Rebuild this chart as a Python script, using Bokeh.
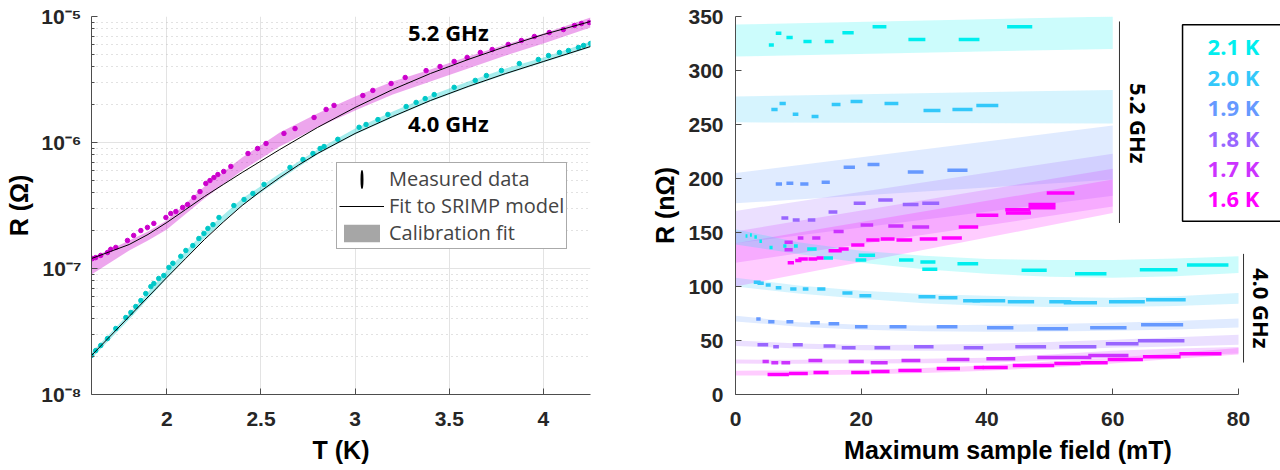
import numpy as np
from bokeh.plotting import figure
from bokeh.layouts import row
from bokeh.models import (FixedTicker, CustomJSTickFormatter, Legend, LegendItem,
                          Label, Range1d)
from bokeh.embed import file_html
from bokeh.resources import INLINE

# ---------------- LEFT PANEL DATA : R(T) ----------------
T52 = [1.605, 1.622, 1.649, 1.685, 1.702, 1.729, 1.791, 1.824, 1.862, 1.897, 1.931, 1.995,
       2.021, 2.048, 2.084, 2.110, 2.144, 2.176, 2.207, 2.229, 2.250, 2.271, 2.302, 2.340,
       2.431, 2.482, 2.527, 2.622, 2.681, 2.782, 2.846, 2.888, 3.041, 3.094, 3.191, 3.266,
       3.377, 3.451, 3.526, 3.595, 3.665, 3.728, 3.813, 3.883, 3.952, 4.031, 4.106, 4.165,
       4.202, 4.244]
R52 = [1.20e-7, 1.22e-7, 1.27e-7, 1.34e-7, 1.42e-7, 1.47e-7, 1.67e-7, 1.83e-7, 2.00e-7,
       2.12e-7, 2.28e-7, 2.54e-7, 2.73e-7, 2.83e-7, 3.05e-7, 3.22e-7, 3.66e-7, 4.08e-7,
       4.73e-7, 4.99e-7, 5.27e-7, 5.57e-7, 5.89e-7, 6.46e-7, 8.18e-7, 8.96e-7, 9.82e-7,
       1.18e-6, 1.29e-6, 1.58e-6, 1.83e-6, 1.97e-6, 2.36e-6, 2.59e-6, 2.94e-6, 3.28e-6,
       3.72e-6, 4.01e-6, 4.40e-6, 4.73e-6, 5.18e-6, 5.47e-6, 6.00e-6, 6.45e-6, 6.94e-6,
       7.46e-6, 7.88e-6, 8.49e-6, 8.79e-6, 8.96e-6]
T40 = [1.600, 1.622, 1.649, 1.685, 1.729, 1.782, 1.809, 1.835, 1.862, 1.888, 1.915, 1.931,
       1.957, 1.984, 2.011, 2.032, 2.074, 2.101, 2.138, 2.170, 2.197, 2.218, 2.245, 2.277,
       2.356, 2.410, 2.457, 2.516, 2.654, 2.723, 2.776, 2.814, 2.835, 2.908, 3.021, 3.058,
       3.121, 3.174, 3.271, 3.324, 3.372, 3.420, 3.526, 3.638, 3.697, 3.777, 3.872, 3.973,
       4.027, 4.085, 4.133, 4.186, 4.213, 4.250]
R40 = [2.04e-8, 2.23e-8, 2.45e-8, 2.78e-8, 3.34e-8, 4.08e-8, 4.48e-8, 4.99e-8, 5.57e-8,
       6.33e-8, 7.19e-8, 7.60e-8, 8.34e-8, 8.80e-8, 1.02e-7, 1.10e-7, 1.25e-7, 1.39e-7,
       1.52e-7, 1.73e-7, 1.90e-7, 2.08e-7, 2.23e-7, 2.54e-7, 3.16e-7, 3.53e-7, 3.94e-7,
       4.65e-7, 6.34e-7, 7.33e-7, 8.18e-7, 8.96e-7, 9.29e-7, 1.06e-6, 1.32e-6, 1.39e-6,
       1.52e-6, 1.67e-6, 1.93e-6, 2.08e-6, 2.23e-6, 2.40e-6, 2.74e-6, 3.11e-6, 3.40e-6,
       3.73e-6, 4.23e-6, 4.56e-6, 4.90e-6, 5.18e-6, 5.37e-6, 5.68e-6, 5.89e-6, 6.11e-6]

fitT52 = [1.6, 1.7, 1.8, 1.9, 2.0, 2.1, 2.2, 2.3, 2.4, 2.6, 2.8, 3.0, 3.2, 3.4, 3.6, 3.8,
          4.0, 4.25]
fitR52 = [1.200e-7, 1.364e-7, 1.550e-7, 1.862e-7, 2.318e-7, 2.938e-7, 3.727e-7, 4.642e-7,
          5.779e-7, 8.799e-7, 1.315e-6, 1.896e-6, 2.634e-6, 3.528e-6, 4.557e-6, 5.779e-6,
          7.197e-6, 9.127e-6]
fitT40 = [1.6, 1.8, 2.0, 2.1, 2.2, 2.3, 2.4, 2.5, 2.6, 2.7, 2.8, 3.0, 3.2, 3.4, 3.6, 3.8,
          4.0, 4.25]
fitR40 = [2.039e-8, 4.159e-8, 8.483e-8, 1.200e-7, 1.699e-7, 2.339e-7, 3.162e-7, 4.122e-7,
          5.275e-7, 6.627e-7, 8.178e-7, 1.179e-6, 1.608e-6, 2.154e-6, 2.783e-6, 3.528e-6,
          4.394e-6, 5.779e-6]

bandT52 = [1.6, 1.7, 1.8, 1.9, 2.0, 2.2, 2.4, 2.6, 2.8, 3.0, 3.2, 3.4, 3.6, 3.8, 4.0, 4.25]
band52_hi = [1.223e-7, 1.415e-7, 1.668e-7, 1.966e-7, 2.404e-7, 4.475e-7, 7.603e-7, 1.200e-6,
             1.699e-6, 2.318e-6, 3.049e-6, 3.796e-6, 4.814e-6, 5.995e-6, 7.331e-6, 9.818e-6]
band52_lo = [8.960e-8, 1.116e-7, 1.389e-7, 1.668e-7, 2.039e-7, 3.594e-7, 5.995e-7, 9.296e-7,
             1.315e-6, 1.795e-6, 2.404e-6, 3.049e-6, 3.866e-6, 4.903e-6, 6.105e-6, 8.178e-6]
bandT40 = [1.6, 1.8, 2.0, 2.2, 2.4, 2.6, 2.8, 3.0, 3.2, 3.4, 3.6, 3.8, 4.0, 4.25]
band40_hi = [2.154e-8, 4.394e-8, 9.641e-8, 1.966e-7, 3.594e-7, 5.675e-7, 8.799e-7, 1.292e-6,
             1.762e-6, 2.360e-6, 3.049e-6, 3.866e-6, 4.727e-6, 6.332e-6]
band40_lo = [1.931e-8, 3.937e-8, 8.327e-8, 1.730e-7, 3.162e-7, 5.084e-7, 8.030e-7, 1.157e-6,
             1.579e-6, 2.115e-6, 2.732e-6, 3.464e-6, 4.314e-6, 5.675e-6]

# ---------------- RIGHT PANEL DATA : R(field) ----------------
temps = ["2.1 K", "2.0 K", "1.9 K", "1.8 K", "1.7 K", "1.6 K"]
colors = ["#00EEEE", "#33C8FA", "#6699FF", "#9966FF", "#CC33FF", "#FF00FF"]

# 5.2 GHz measured dashes: (field start, field end, R in nOhm)
dash52_21K = [(5.3, 6.1, 323.7), (6.4, 7.3, 334.5), (8.1, 9.1, 330.5), (10.8, 12.1, 326.8),
              (14.2, 15.6, 326.8), (17.0, 18.8, 335.0), (21.8, 24.0, 340.6), (27.5, 30.2, 328.6),
              (35.5, 38.8, 328.6), (43.2, 47.2, 340.6)]
dash52_20K = [(5.7, 6.7, 264.0), (7.0, 8.0, 269.5), (9.1, 10.0, 259.4), (12.1, 13.2, 257.5),
              (15.3, 16.7, 268.6), (18.3, 20.2, 271.4), (23.7, 25.9, 269.5), (29.9, 32.6, 263.0),
              (34.5, 37.7, 264.0), (38.3, 41.8, 267.7)]
dash52_19K = [(6.4, 7.4, 194.8), (8.1, 9.2, 195.5), (10.3, 11.6, 194.8), (13.7, 15.0, 196.6),
              (17.2, 19.0, 210.5), (21.0, 22.9, 213.0), (27.4, 29.9, 206.0), (33.7, 36.9, 207.7)]
dash52_18K = [(7.3, 8.4, 163.4), (9.1, 10.2, 161.5), (11.5, 12.7, 161.5), (14.8, 16.2, 169.0),
              (18.8, 20.7, 177.0), (22.7, 25.0, 180.0), (26.6, 29.1, 176.0), (29.7, 32.4, 177.0)]
dash52_17K = [(7.8, 9.1, 141.0), (7.8, 9.1, 134.0), (9.9, 10.8, 145.0), (12.2, 13.5, 145.0),
              (15.6, 17.2, 151.0), (19.9, 21.9, 157.0), (24.3, 26.7, 156.0), (28.1, 30.8, 155.0)]
dash52_16K = [(8.3, 9.3, 122.0), (9.5, 10.5, 124.0), (10.0, 11.5, 125.5), (11.6, 13.0, 125.5),
              (12.9, 14.0, 126.5), (14.8, 16.9, 133.0), (16.4, 18.0, 134.8), (18.4, 20.5, 138.5),
              (20.8, 22.9, 143.0), (23.1, 25.3, 144.0), (25.6, 28.1, 143.0), (29.3, 32.1, 144.0),
              (32.8, 36.0, 145.0), (35.5, 38.6, 155.0), (38.3, 41.8, 166.0), (42.9, 46.9, 171.0),
              (43.0, 47.0, 168.0), (46.6, 50.9, 176.0), (46.6, 50.9, 173.0), (49.5, 53.9, 186.5)]

# 4.0 GHz measured dashes
dash40_21K = [(1.6, 1.9, 146.8), (2.3, 2.6, 147.7), (3.0, 3.4, 145.8), (3.8, 4.2, 142.0),
              (5.4, 5.9, 136.0), (7.6, 8.1, 137.5), (9.3, 9.9, 137.5), (11.4, 12.9, 134.8),
              (14.0, 15.5, 126.5), (19.1, 20.8, 124.6), (19.6, 22.2, 129.0), (26.0, 28.3, 124.6),
              (29.4, 31.8, 122.8), (29.7, 32.1, 116.0), (35.3, 38.6, 121.0), (45.5, 49.5, 115.0),
              (54.0, 59.0, 111.7), (64.3, 70.3, 115.4), (71.8, 78.4, 120.0)]
dash40_20K = [(2.9, 4.0, 104.0), (3.5, 4.5, 103.0), (4.8, 5.6, 101.5), (6.4, 7.3, 98.8),
              (8.7, 9.7, 97.8), (10.7, 11.6, 97.8), (13.0, 14.3, 97.8), (17.0, 18.6, 94.0),
              (19.7, 21.6, 91.4), (29.1, 31.8, 90.5), (32.3, 35.3, 89.6), (36.2, 38.9, 86.8),
              (37.7, 42.9, 86.8), (43.3, 47.5, 85.8), (49.9, 53.4, 85.8), (52.2, 57.5, 85.0),
              (59.4, 65.1, 85.8), (65.3, 71.6, 87.7)]
dash40_19K = [(3.3, 4.0, 70.0), (5.2, 6.2, 67.4), (8.1, 9.2, 67.4), (11.9, 13.4, 66.5),
              (14.8, 16.5, 65.5), (19.0, 21.0, 62.8), (24.5, 27.2, 62.8), (32.0, 35.3, 62.8),
              (40.0, 44.2, 61.8), (48.0, 52.9, 60.9), (56.4, 62.2, 61.8), (64.5, 71.2, 64.6)]
dash40_18K = [(3.5, 5.2, 46.0), (6.0, 6.9, 44.3), (9.1, 10.7, 46.0), (14.0, 15.9, 45.0),
              (16.9, 19.1, 43.4), (22.1, 24.6, 43.4), (28.4, 31.5, 44.3), (36.3, 39.4, 43.4),
              (44.5, 49.4, 44.3), (51.5, 57.4, 44.3), (58.9, 64.1, 47.0), (64.0, 71.4, 49.8)]
dash40_17K = [(4.3, 5.3, 30.5), (5.7, 6.8, 29.5), (7.3, 8.7, 29.5), (11.6, 13.8, 31.4),
              (18.0, 20.4, 30.5), (21.5, 24.2, 29.5), (26.4, 29.4, 31.4), (33.6, 37.2, 32.3),
              (39.9, 44.5, 33.2), (48.0, 56.6, 34.2), (56.1, 62.5, 36.0)]
dash40_16K = [(5.1, 8.5, 18.5), (8.5, 11.5, 19.4), (12.4, 14.8, 20.3), (18.4, 21.3, 20.3),
              (21.6, 24.5, 21.2), (25.9, 29.6, 22.2), (32.0, 35.7, 24.0), (37.9, 39.5, 25.0),
              (39.3, 43.3, 25.0), (44.1, 50.7, 26.8), (50.7, 54.9, 28.6), (54.9, 59.2, 29.5),
              (59.2, 64.8, 32.3), (64.8, 70.8, 35.0), (70.6, 77.3, 37.8)]

# calibration-fit bands (lower, upper) in nOhm
b52_x = [0, 60]
b52_21K = ([313.0, 320.0], [342.5, 350.0])
b52_20K = ([252.0, 251.0], [276.0, 282.0])
b52_19K = ([177.0, 199.0], [205.0, 249.0])
b52_18K = ([140.0, 184.0], [170.0, 223.0])
b52_17K = ([122.0, 174.0], [151.0, 209.0])
b52_16K = ([100.0, 168.0], [140.0, 199.0])

b40_x = [0, 10, 20, 30, 40, 50, 60, 70, 80]
b40_21K = ([139, 130, 122, 116, 111.7, 109, 108, 109.5, 112.6],
           [153, 141, 133, 128.5, 125.5, 124.5, 124.6, 126, 128])
b40_20K = ([100, 93.5, 88.6, 84.6, 82, 81, 81, 82, 84],
           [108, 101, 96, 93, 91.4, 90.2, 89.6, 91, 94])
b40_19K = ([67.7, 62.8, 60, 58.5, 58, 58.3, 59, 60.3, 62.1],
           [73, 67, 64.6, 64, 64.6, 65.3, 66.5, 68, 70.4])
b40_18K = ([45, 42.5, 41, 40.6, 40.6, 41.5, 43.4, 44.5, 46],
           [50, 47.3, 45.8, 46, 47, 48.5, 50.8, 53, 55.4])
b40_17K = ([28.6, 28.5, 28.6, 29, 29.5, 31.5, 34, 36, 38],
           [32.3, 32.2, 32.3, 33, 34, 37, 40.6, 42.5, 44])
b40_16K = ([17.5, 17.8, 18.5, 20, 22, 25, 28.6, 33, 37],
           [22, 22.3, 23, 24.5, 26.8, 30.5, 34, 38.5, 43])

# ---------------- STYLE ----------------
AX_FONT = "Liberation Sans"
TX_FONT = "Open Sans"
TICK_COL = "#262626"
AX_COL = "#4D4D4D"


def style_axes(p):
    for ax in p.axis:
        ax.axis_line_color = AX_COL
        ax.major_tick_line_color = AX_COL
        ax.major_tick_in = 6
        ax.major_tick_out = 0
        ax.minor_tick_line_color = None
        ax.major_label_text_font = AX_FONT
        ax.major_label_text_font_style = "bold"
        ax.major_label_text_font_size = "21px"
        ax.major_label_text_color = TICK_COL
        ax.axis_label_text_font = AX_FONT
        ax.axis_label_text_font_style = "bold"
        ax.axis_label_text_font_size = "25px"
        ax.axis_label_text_color = "#000000"
    p.xaxis.major_label_standoff = 17
    p.xaxis.axis_label_standoff = 7


# ---------------- LEFT FIGURE ----------------
p1 = figure(width=640, height=470, y_axis_type="log",
            x_range=Range1d(1.6, 4.25), y_range=Range1d(1e-8, 1e-5),
            output_backend="svg", toolbar_location=None,
            min_border_left=91, min_border_right=50, min_border_top=16, min_border_bottom=76)
p1.outline_line_color = None
p1.background_fill_color = "white"

p1.varea(x=bandT52, y1=band52_lo, y2=band52_hi, fill_color="#CC00CC", fill_alpha=0.35)
p1.varea(x=bandT40, y1=band40_lo, y2=band40_hi, fill_color="#00CCCC", fill_alpha=0.35)
p1.scatter(T52, R52, size=4.5, color="#CC00CC")
p1.scatter(T40, R40, size=4.5, color="#00C8C8")
r_fit = p1.line(fitT52, fitR52, color="black", line_width=1)
p1.line(fitT40, fitR40, color="black", line_width=1)

style_axes(p1)
p1.xaxis.ticker = FixedTicker(ticks=[2, 2.5, 3, 3.5, 4])
p1.xaxis.formatter = CustomJSTickFormatter(code="return tick.toString();")
minor = [m * 10.0 ** e for e in (-8, -7, -6) for m in range(2, 10)]
p1.yaxis.ticker = FixedTicker(ticks=[1e-8, 1e-7, 1e-6, 1e-5], minor_ticks=minor)
p1.yaxis.formatter = CustomJSTickFormatter(code="""
const e = Math.round(Math.log10(tick));
const sup = {"-":"\u207b","0":"\u2070","1":"\u00b9","2":"\u00b2","3":"\u00b3","4":"\u2074",
             "5":"\u2075","6":"\u2076","7":"\u2077","8":"\u2078","9":"\u2079"};
return "10" + String(e).split("").map(c => sup[c]).join("");
""")
p1.yaxis.minor_tick_line_color = AX_COL
p1.yaxis.minor_tick_in = 3
p1.yaxis.minor_tick_out = 0
p1.yaxis.major_label_standoff = 10
p1.yaxis.axis_label_standoff = 5
p1.xaxis.axis_label = "T (K)"
p1.yaxis.axis_label = "R (Ω)"

p1.xgrid.grid_line_color = "#E3E3E3"
p1.ygrid.grid_line_color = "#E3E3E3"
p1.ygrid.minor_grid_line_color = "#C4C4C4"
p1.ygrid.minor_grid_line_dash = "1 4"

for txt, yv in (("5.2 GHz", 7.6e-6), ("4.0 GHz", 1.44e-6)):
    p1.add_layout(Label(x=3.495, y=yv, text=txt, text_align="center", text_baseline="middle",
                        text_font=TX_FONT, text_font_style="bold", text_font_size="22px",
                        text_color="black"))

# legend-only proxies (NaN data, never drawn in the plot).
# A tall thin screen-sized ellipse gives the vertical error-bar symbol in the legend.
r_meas = p1.ellipse(x=[np.nan], y=[np.nan], width=1.5, height=18,
                    width_units="screen", height_units="screen",
                    fill_color="black", line_color="black", line_width=1.5)
r_cal = p1.varea(x=[np.nan], y1=[np.nan], y2=[np.nan], fill_color="#A6A6A6")
leg = Legend(items=[LegendItem(label="Measured data", renderers=[r_meas]),
                    LegendItem(label="Fit to SRIMP model", renderers=[r_fit]),
                    LegendItem(label="Calibration fit", renderers=[r_cal])],
             location=(245, 145), margin=0, padding=2, spacing=0,
             glyph_width=45, glyph_height=22, label_standoff=5,
             label_text_font=TX_FONT, label_text_font_size="20px",
             border_line_color="#555555", border_line_width=1,
             background_fill_color="white", background_fill_alpha=1)
p1.add_layout(leg)

# ---------------- RIGHT FIGURE ----------------
p2 = figure(width=640, height=470, x_range=Range1d(0, 86.68), y_range=Range1d(0, 350),
            output_backend="svg", toolbar_location=None,
            min_border_left=95, min_border_right=0, min_border_top=15, min_border_bottom=76)
p2.outline_line_color = None
p2.grid.visible = False

bands52 = [b52_21K, b52_20K, b52_19K, b52_18K, b52_17K, b52_16K]
bands40 = [b40_21K, b40_20K, b40_19K, b40_18K, b40_17K, b40_16K]
dashes52 = [dash52_21K, dash52_20K, dash52_19K, dash52_18K, dash52_17K, dash52_16K]
dashes40 = [dash40_21K, dash40_20K, dash40_19K, dash40_18K, dash40_17K, dash40_16K]

for (lo, hi), c in zip(bands52, colors):
    p2.varea(x=b52_x, y1=lo, y2=hi, fill_color=c, fill_alpha=0.2)
for (lo, hi), c in zip(bands40, colors):
    p2.varea(x=b40_x, y1=lo, y2=hi, fill_color=c, fill_alpha=0.2)
for dl, c in list(zip(dashes40, colors)) + list(zip(dashes52, colors)):
    x0 = [d[0] for d in dl]
    x1 = [d[1] for d in dl]
    rv = [d[2] for d in dl]
    p2.segment(x0=x0, y0=rv, x1=x1, y1=rv, line_color=c, line_width=3.5)

style_axes(p2)
p2.xaxis.ticker = FixedTicker(ticks=[0, 20, 40, 60, 80])
p2.yaxis.ticker = FixedTicker(ticks=[0, 50, 100, 150, 200, 250, 300, 350])
p2.xaxis.bounds = (0, 80)
p2.yaxis.bounds = (0, 350)
p2.yaxis.major_label_standoff = 12
p2.yaxis.axis_label_standoff = 6
p2.xaxis.axis_label = "Maximum sample field (mT)"
p2.yaxis.axis_label = "R (nΩ)"

# frequency brackets
p2.line([61.07, 61.07], [345.4, 158.8], line_color="#333333", line_width=1)
p2.line([80.8, 80.8], [130.2, 29.6], line_color="#333333", line_width=1)
p2.add_layout(Label(x=64.2, y=251.2, text="5.2 GHz", angle=-np.pi / 2, text_align="center",
                    text_baseline="middle", text_font=TX_FONT, text_font_style="bold",
                    text_font_size="22px", text_color="black"))
p2.add_layout(Label(x=83.8, y=79.9, text="4.0 GHz", angle=-np.pi / 2, text_align="center",
                    text_baseline="middle", text_font=TX_FONT, text_font_style="bold",
                    text_font_size="22px", text_color="black"))

# temperature key box
p2.quad(left=71.1, right=95, top=342.3, bottom=160.5, fill_color="white",
        line_color="black", line_width=1.5)
for t, c, yv in zip(temps, colors, [322.3, 293.7, 266.0, 237.3, 209.6, 181.9]):
    p2.add_layout(Label(x=79.2, y=yv, text=t, text_align="center", text_baseline="middle",
                        text_font=TX_FONT, text_font_style="bold", text_font_size="22px",
                        text_color=c))

layout = row(p1, p2)
open("out.html", "w").write(file_html(layout, INLINE))
